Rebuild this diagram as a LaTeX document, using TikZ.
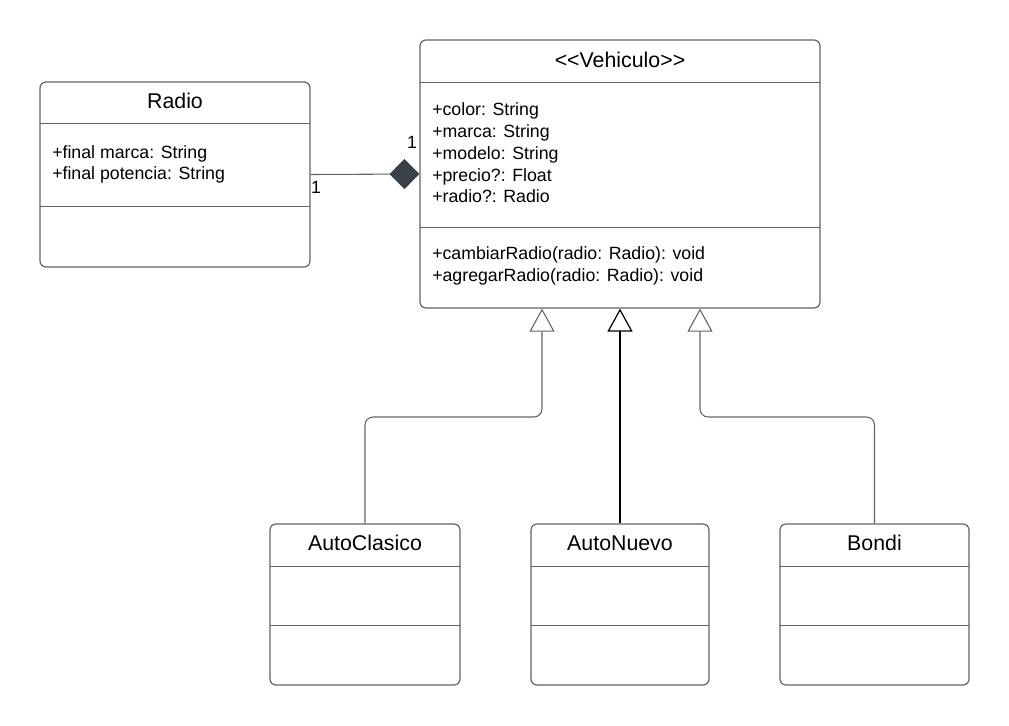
\documentclass[tikz,border=0pt]{standalone}
\usepackage{fontspec}
\setmainfont{Liberation Sans}[Ligatures=TeXOff]
\usetikzlibrary{arrows.meta,fit}
\definecolor{edgegray}{HTML}{5F646B}
\definecolor{diamondfill}{HTML}{3A414A}
\begin{document}
\begin{tikzpicture}[x=0.75pt,y=-0.75pt,
  classbox/.style={draw=edgegray,line width=0.9pt,rounded corners=4.5pt,inner sep=0pt,fill=white},
  sepline/.style={draw=edgegray,line width=0.75pt},
  titletext/.style={font=\fontsize{16}{19}\selectfont,inner sep=0pt},
  attrtext/.style={font=\fontsize{13.3}{16.3}\selectfont,align=left,anchor=west,inner sep=0pt},
  multtext/.style={font=\fontsize{13.3}{16}\selectfont,inner sep=0pt},
  conn/.style={draw=edgegray,line width=0.8pt,rounded corners=6pt},
  gen/.style={-{Triangle[open,length=17.25pt,width=18.75pt,fill=white]}},
]
\useasboundingbox (0,0) rectangle (1009,725);
% Radio
\node[classbox,fit={(40,82)(310,267)}] (radio) {};
\draw[sepline] (40,123) -- (310,123);
\draw[sepline] (40,206) -- (310,206);
\node[titletext] (radiot) at (175,101) {Radio};
\node[attrtext] (radioa) at (52,164.5) {+final marca: String\\+final potencia: String};
% Vehiculo
\node[classbox,fit={(420,40)(820,308)}] (veh) {};
\draw[sepline] (420,82) -- (820,82);
\draw[sepline] (420,227) -- (820,227);
\node[titletext] (veht) at (620,60) {<<Vehiculo>>};
\node[attrtext] (veha) at (432,153) {+color: String\\+marca: String\\+modelo: String\\+precio?: Float\\+radio?: Radio};
\node[attrtext] (vehm) at (432,266) {+cambiarRadio(radio: Radio): void\\+agregarRadio(radio: Radio): void};
% AutoClasico
\node[classbox,fit={(270,524)(460,685)}] (ac) {};
\draw[sepline] (270,566) -- (460,566);
\draw[sepline] (270,625) -- (460,625);
\node[titletext] (act) at (365,543) {AutoClasico};
% AutoNuevo
\node[classbox,fit={(531,524)(709,685)}] (an) {};
\draw[sepline] (531,566) -- (709,566);
\draw[sepline] (531,625) -- (709,625);
\node[titletext] (ant) at (620,543) {AutoNuevo};
% Bondi
\node[classbox,fit={(780,524)(969,685)}] (bo) {};
\draw[sepline] (780,566) -- (969,566);
\draw[sepline] (780,625) -- (969,625);
\node[titletext] (bot) at (874.5,543) {Bondi};
% composition
\draw[draw=edgegray,line width=0.8pt,-{Diamond[length=22.5pt,width=22.5pt,fill=diamondfill,color=diamondfill]}] (radio.east) -- (veh.west);
\node[multtext] (m1) at (412,142) {1};
\node[multtext] (m2) at (316,187) {1};
% generalizations
\coordinate (j1) at (542,417);
\coordinate (j2) at (700,417);
\draw[conn,gen] (ac.north) |- (j1) -- (j1 |- veh.south);
\draw[conn,gen] (bo.north) |- (j2) -- (j2 |- veh.south);
\draw[black,line width=1.6pt,-{Triangle[open,length=17.25pt,width=18.75pt,fill=white,line width=0.9pt]}] (an.north) -- (veh.south);
\end{tikzpicture}
\end{document}
